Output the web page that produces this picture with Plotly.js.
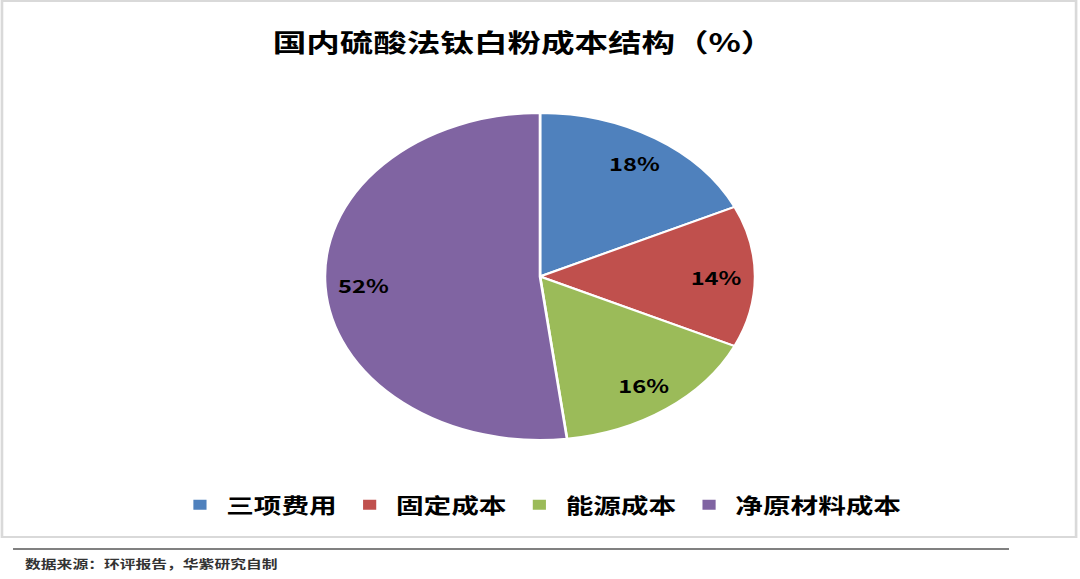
<!DOCTYPE html>
<html>
<head>
<meta charset="utf-8">
<script src="https://cdn.plot.ly/plotly-3.0.1.min.js"></script>
<style>
html,body{margin:0;padding:0;background:#fff;overflow:hidden;}
#chart{width:821px;height:579px;transform:scaleX(1.3155);transform-origin:0 0;}
</style>
</head>
<body>
<div id="chart"></div>
<script>
const categories = ['三项费用', '固定成本', '能源成本', '净原材料成本'];
const shares = [18, 14, 16, 52];
const colors = ['#4F81BD', '#C0504D', '#9BBB59', '#8064A2'];
const titleText = '国内硫酸法钛白粉成本结构（%）';
const sourceText = '数据来源：环评报告，华紫研究自制';

const W = 821, H = 579;
const fx = px => px / W;
const fy = py => 1 - py / H;
const CJK = '"Noto Sans CJK SC", "Noto Sans", sans-serif';

// pie geometry (inner, unscaled pixels)
const CX = 410.5, CY = 276.5, R = 163.5;

const trace = {
  type: 'pie',
  labels: categories,
  values: shares,
  sort: false,
  direction: 'clockwise',
  rotation: 0,
  marker: {colors: colors, line: {color: '#ffffff', width: 2}},
  textinfo: 'none',
  textposition: 'none',
  hoverinfo: 'label+percent',
  domain: {x: [fx(CX - R), fx(CX + R)], y: [fy(CY + R), fy(CY - R)]},
  automargin: false
};

// data labels placed at mid-angle of each slice, computed from the shares
const total = shares.reduce((a, b) => a + b, 0);
const labelAnnotations = [];
let cum = 0;
shares.forEach((v, i) => {
  const mid = (cum + v / 2) / total * 2 * Math.PI;
  cum += v;
  const rr = 0.82 * R;
  labelAnnotations.push({
    text: Math.round(v / total * 100) + '%',
    xref: 'paper', yref: 'paper',
    x: fx(CX + rr * Math.sin(mid)), y: fy(CY - rr * Math.cos(mid)),
    xanchor: 'center', yanchor: 'middle', showarrow: false,
    font: {family: CJK, size: 18, color: '#000000', weight: 'bold'}
  });
});

const layout = {
  width: W, height: H,
  margin: {l: 0, r: 0, t: 0, b: 0, pad: 0},
  paper_bgcolor: '#ffffff',
  plot_bgcolor: '#ffffff',
  font: {family: CJK, color: '#000000'},
  title: {
    text: titleText,
    x: fx(398), xanchor: 'center', xref: 'container',
    y: fy(43), yanchor: 'middle', yref: 'container',
    font: {family: CJK, size: 25.5, color: '#000000', weight: 'bold'}
  },
  showlegend: true,
  legend: {
    orientation: 'h',
    x: fx(132), xanchor: 'left',
    y: fy(505), yanchor: 'middle',
    font: {family: CJK, size: 21, color: '#000000', weight: 'bold'},
    traceorder: 'normal',
    bgcolor: 'rgba(0,0,0,0)'
  },
  shapes: [
    {type: 'rect', xref: 'paper', yref: 'paper', x0: fx(1.5), x1: fx(818), y0: fy(537), y1: fy(1),
     line: {color: '#d9d9d9', width: 2}, fillcolor: 'rgba(0,0,0,0)', layer: 'below'},
    {type: 'line', xref: 'paper', yref: 'paper', x0: fx(9.9), x1: fx(767), y0: fy(549), y1: fy(549),
     line: {color: '#808080', width: 2}}
  ],
  annotations: labelAnnotations.concat([
    {text: sourceText, xref: 'paper', yref: 'paper', x: fx(16.7), xanchor: 'left', y: fy(563), yanchor: 'middle',
     showarrow: false, font: {family: CJK, size: 12, color: '#333333', weight: 'bold'}}
  ])
};

Plotly.newPlot('chart', [trace], layout, {displayModeBar: false, staticPlot: true});
</script>
</body>
</html>
